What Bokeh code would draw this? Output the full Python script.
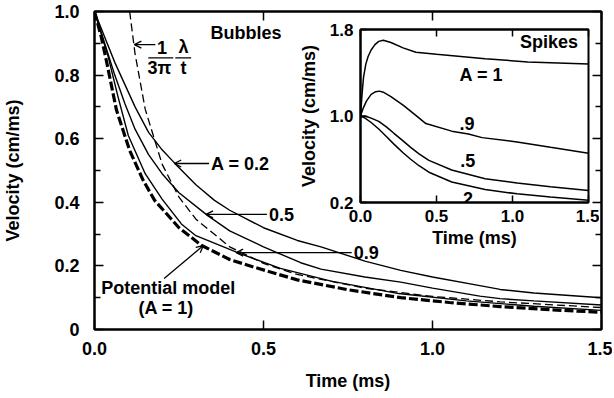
from bokeh.plotting import figure
from bokeh.models import Range1d, LinearAxis, FixedTicker, Arrow, OpenHead, Label
from bokeh.layouts import column
from bokeh.embed import file_html
from bokeh.resources import INLINE

# ---------------- data: bubbles (main panel) ----------------
t_a02 = [0, 0.03, 0.06, 0.09, 0.12, 0.16, 0.20, 0.24, 0.30, 0.355, 0.40, 0.50, 0.60, 0.67, 0.80, 0.906, 1.0, 1.14, 1.2, 1.3, 1.5]
v_a02 = [1.0, 0.92, 0.84, 0.77, 0.70, 0.62, 0.565, 0.52, 0.455, 0.406, 0.375, 0.32, 0.28, 0.26, 0.215, 0.186, 0.165, 0.138, 0.126, 0.115, 0.10]

t_a05 = [0, 0.03, 0.06, 0.09, 0.12, 0.16, 0.20, 0.25, 0.335, 0.40, 0.50, 0.61, 0.67, 0.80, 0.906, 1.0, 1.14, 1.2, 1.3, 1.5]
v_a05 = [1.0, 0.90, 0.80, 0.71, 0.63, 0.55, 0.49, 0.43, 0.358, 0.31, 0.26, 0.21, 0.19, 0.165, 0.149, 0.13, 0.105, 0.097, 0.09, 0.077]

t_a09 = [0, 0.02, 0.04, 0.07, 0.10, 0.15, 0.20, 0.257, 0.30, 0.42, 0.55, 0.70, 0.90, 1.10, 1.30, 1.50]
v_a09 = [1.0, 0.93, 0.86, 0.73, 0.61, 0.49, 0.41, 0.332, 0.295, 0.243, 0.192, 0.152, 0.113, 0.09, 0.073, 0.06]

t_pot = [0, 0.02, 0.035, 0.065, 0.104, 0.144, 0.178, 0.25, 0.316, 0.40, 0.472, 0.60, 0.75, 0.906, 1.05, 1.2, 1.35, 1.5]
v_pot = [1.0, 0.92, 0.846, 0.69, 0.563, 0.469, 0.406, 0.32, 0.265, 0.22, 0.196, 0.156, 0.125, 0.10, 0.085, 0.072, 0.062, 0.054]

t_lam = [0.104, 0.12, 0.15, 0.20, 0.25, 0.30, 0.40, 0.50, 0.60, 0.80, 1.0, 1.2, 1.5]
v_lam = [1.0, 0.867, 0.693, 0.52, 0.416, 0.347, 0.26, 0.208, 0.173, 0.13, 0.104, 0.087, 0.069]

main_xticks = [0, 0.5, 1.0, 1.5]
main_xlabels = ["0.0", "0.5", "1.0", "1.5"]
main_yticks = [0, 0.2, 0.4, 0.6, 0.8, 1.0]
main_ylabels = ["0", "0.2", "0.4", "0.6", "0.8", "1.0"]
main_yminor = [0.1, 0.3, 0.5, 0.7, 0.9]

# ---------------- data: spikes (inset) ----------------
ts_a1 = [0, 0.01, 0.02, 0.035, 0.05, 0.07, 0.095, 0.12, 0.15, 0.20, 0.28, 0.364, 0.50, 0.82, 1.1, 1.5]
vs_a1 = [1.0, 1.2, 1.36, 1.48, 1.55, 1.61, 1.66, 1.69, 1.70, 1.68, 1.63, 1.59, 1.57, 1.53, 1.50, 1.48]

ts_a09 = [0, 0.02, 0.04, 0.07, 0.10, 0.125, 0.15, 0.20, 0.28, 0.36, 0.43, 0.60, 0.71, 0.80, 1.03, 1.25, 1.5]
vs_a09 = [1.0, 1.08, 1.14, 1.2, 1.225, 1.23, 1.22, 1.18, 1.10, 1.01, 0.93, 0.86, 0.834, 0.80, 0.76, 0.71, 0.655]

ts_a05 = [0, 0.03, 0.07, 0.12, 0.17, 0.22, 0.28, 0.33, 0.385, 0.45, 0.60, 0.82, 1.03, 1.25, 1.5]
vs_a05 = [1.0, 1.0, 0.98, 0.95, 0.90, 0.84, 0.77, 0.71, 0.65, 0.59, 0.50, 0.42, 0.38, 0.345, 0.31]

ts_a02 = [0, 0.03, 0.07, 0.12, 0.17, 0.22, 0.28, 0.33, 0.385, 0.45, 0.60, 0.82, 1.03, 1.25, 1.5]
vs_a02 = [1.0, 0.98, 0.94, 0.88, 0.81, 0.74, 0.66, 0.60, 0.54, 0.48, 0.39, 0.32, 0.28, 0.25, 0.22]

inset_xticks = [0, 0.5, 1.0, 1.5]
inset_xlabels = ["0.0", "0.5", "1.0", "1.5"]
inset_yticks = [0.2, 1.0, 1.8]
inset_ylabels = ["0.2", "1.0", "1.8"]

FONT = "Liberation Sans"


def style_axis(ax, size, tick_in, minor_in=0):
    ax.axis_line_width = 2
    ax.axis_line_color = "black"
    ax.major_tick_in = tick_in
    ax.major_tick_out = 0
    ax.minor_tick_in = minor_in
    ax.minor_tick_out = 0
    ax.major_tick_line_width = 1.5
    ax.minor_tick_line_width = 1.5
    ax.major_label_text_font = FONT
    ax.major_label_text_font_style = "bold"
    ax.major_label_text_font_size = size
    ax.major_label_text_color = "black"
    ax.axis_label_text_font = FONT
    ax.axis_label_text_font_style = "bold"
    ax.axis_label_text_font_size = "18px"
    ax.axis_label_text_color = "black"


# ---------------- main figure ----------------
p = figure(width=612, height=396, output_backend="svg", toolbar_location=None,
           x_range=Range1d(0, 1.5), y_range=Range1d(0, 1.0),
           min_border_left=93, min_border_right=11, min_border_top=11, min_border_bottom=67)
p.xgrid.visible = False
p.ygrid.visible = False
p.outline_line_color = "black"
p.outline_line_width = 2
p.background_fill_color = "white"
p.border_fill_color = "white"

p.xaxis.ticker = FixedTicker(ticks=main_xticks)
p.yaxis.ticker = FixedTicker(ticks=main_yticks, minor_ticks=main_yminor)
p.xaxis.major_label_overrides = dict(zip(main_xticks, main_xlabels))
p.yaxis.major_label_overrides = dict(zip(main_yticks, main_ylabels))
p.xaxis.axis_label = "Time (ms)"
p.yaxis.axis_label = "Velocity (cm/ms)"
for ax in p.xaxis:
    style_axis(ax, "18px", 9)
    ax.major_label_standoff = 12
    ax.axis_label_standoff = 13
for ax in p.yaxis:
    style_axis(ax, "18px", 9, 6)
    ax.major_label_standoff = 15
    ax.axis_label_standoff = 28

top = LinearAxis(ticker=FixedTicker(ticks=main_xticks))
style_axis(top, "0px", 9)
top.major_label_overrides = {k: "" for k in main_xticks}
top.major_label_standoff = 0
p.add_layout(top, "above")
right = LinearAxis(ticker=FixedTicker(ticks=main_yticks, minor_ticks=main_yminor))
style_axis(right, "0px", 9, 6)
right.major_label_overrides = {k: "" for k in main_yticks}
right.major_label_standoff = 0
p.add_layout(right, "right")

p.line(t_a02, v_a02, line_color="black", line_width=1.4)
p.line(t_a05, v_a05, line_color="black", line_width=1.4)
p.line(t_a09, v_a09, line_color="black", line_width=1.4)
p.line(t_lam, v_lam, line_color="black", line_width=1.3, line_dash="8 4")
p.line(t_pot, v_pot, line_color="black", line_width=3.2, line_dash="9 3")


def lab(fig, x, y, text, align="center", size="18px"):
    fig.add_layout(Label(x=x, y=y, text=text, text_font=FONT, text_font_style="bold",
                         text_font_size=size, text_align=align, text_baseline="middle",
                         text_color="black"))


def arrow(fig, x0, y0, x1, y1, head=True):
    fig.add_layout(Arrow(end=OpenHead(size=7, line_width=1.3) if head else None,
                         x_start=x0, y_start=y0, x_end=x1, y_end=y1,
                         line_width=1.3, line_color="black"))


lab(p, 0.448, 0.931, "Bubbles")
lab(p, 0.200, 0.887, "1")
lab(p, 0.192, 0.821, "3\u03c0")
lab(p, 0.263, 0.887, "\u03bb")
lab(p, 0.263, 0.821, "t")
arrow(p, 0.159, 0.854, 0.233, 0.854, head=False)
arrow(p, 0.239, 0.854, 0.286, 0.854, head=False)
arrow(p, 0.180, 0.896, 0.118, 0.896)

lab(p, 0.345, 0.519, "A = 0.2", align="left")
arrow(p, 0.339, 0.522, 0.236, 0.522)
lab(p, 0.516, 0.362, "0.5", align="left")
arrow(p, 0.510, 0.362, 0.330, 0.362)
lab(p, 0.767, 0.242, "0.9", align="left")
arrow(p, 0.761, 0.242, 0.419, 0.242)
lab(p, 0.218, 0.132, "Potential model")
lab(p, 0.212, 0.069, "(A = 1)")
arrow(p, 0.206, 0.160, 0.322, 0.264)

# ---------------- inset figure ----------------
q = figure(width=333, height=235, output_backend="svg", toolbar_location=None,
           x_range=Range1d(0, 1.5), y_range=Range1d(0.2, 1.8),
           min_border_left=61, min_border_right=3, min_border_top=12, min_border_bottom=50)
q.xgrid.visible = False
q.ygrid.visible = False
q.outline_line_color = "black"
q.outline_line_width = 2
q.background_fill_color = "white"
q.border_fill_alpha = 0
q.xaxis.ticker = FixedTicker(ticks=inset_xticks)
q.yaxis.ticker = FixedTicker(ticks=inset_yticks)
q.xaxis.major_label_overrides = dict(zip(inset_xticks, inset_xlabels))
q.yaxis.major_label_overrides = dict(zip(inset_yticks, inset_ylabels))
q.xaxis.axis_label = "Time (ms)"
q.yaxis.axis_label = "Velocity (cm/ms)"
for ax in q.xaxis:
    style_axis(ax, "17px", 7)
    ax.major_label_standoff = 7
    ax.axis_label_standoff = 3
for ax in q.yaxis:
    style_axis(ax, "17px", 7)
    ax.major_label_standoff = 7
    ax.axis_label_standoff = 8
qtop = LinearAxis(ticker=FixedTicker(ticks=inset_xticks))
style_axis(qtop, "0px", 7)
qtop.major_label_overrides = {k: "" for k in inset_xticks}
qtop.major_label_standoff = 0
q.add_layout(qtop, "above")

q.line(ts_a1, vs_a1, line_color="black", line_width=1.5)
q.line(ts_a09, vs_a09, line_color="black", line_width=1.5)
q.line(ts_a05, vs_a05, line_color="black", line_width=1.5)
q.line(ts_a02, vs_a02, line_color="black", line_width=1.5)

lab(q, 1.24, 1.68, "Spikes")
lab(q, 0.795, 1.38, "A = 1")
lab(q, 0.70, 0.93, ".9")
lab(q, 0.705, 0.585, ".5")
lab(q, 0.69, 0.235, ".2")

q.margin = (-379, 0, 0, 266)
layout = column(p, q)
layout.spacing = 0

open("out.html", "w").write(file_html(layout, INLINE))
